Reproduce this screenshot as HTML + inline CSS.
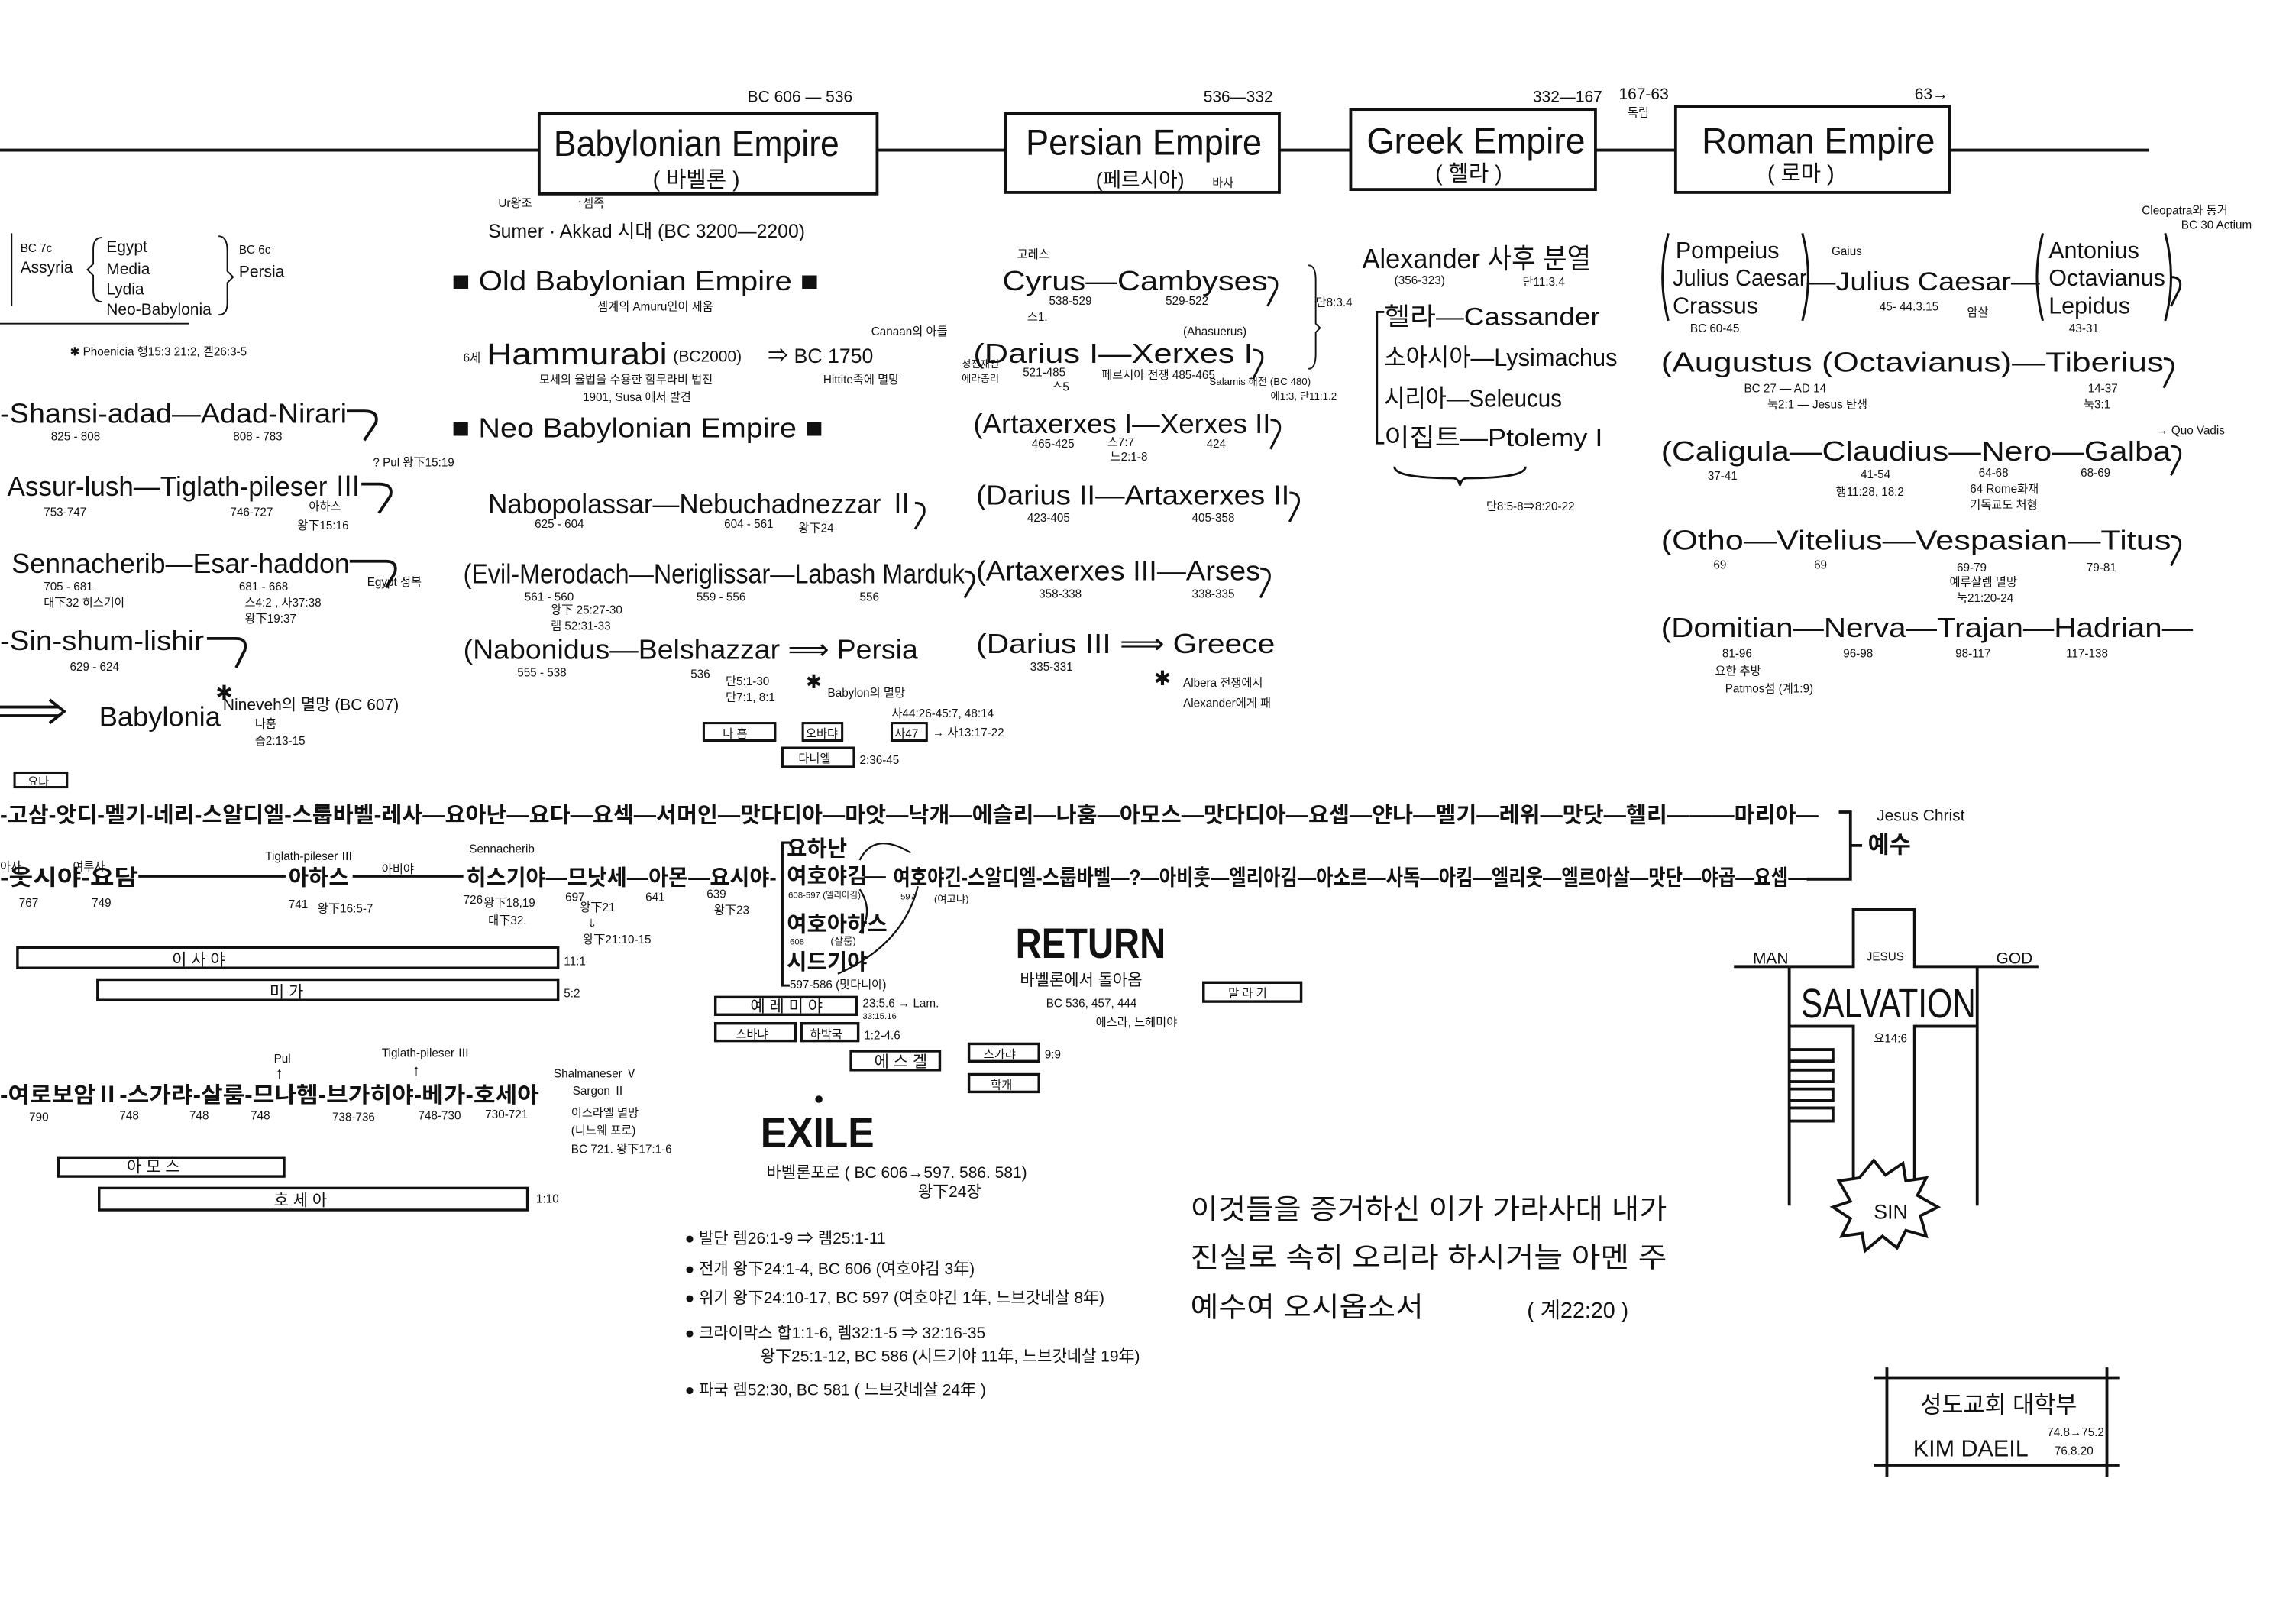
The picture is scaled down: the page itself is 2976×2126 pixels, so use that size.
<!DOCTYPE html>
<html><head><meta charset="utf-8"><style>
html,body{margin:0;padding:0;background:#fff;}
svg{display:block;}
text{font-family:"Liberation Sans","Noto Sans CJK KR",sans-serif;fill:#111;}
.n{font-size:19px;}
.s{font-size:8px;}
.m{font-size:11px;}
.k{font-size:15px;font-weight:bold;}
</style></head><body>
<svg width="2976" height="2126" viewBox="0 0 1560 1114" preserveAspectRatio="none" xmlns="http://www.w3.org/2000/svg">
<rect width="1560" height="1114" fill="#fff"/>
<g stroke="#111" stroke-width="2" fill="none">
<line x1="0" y1="103" x2="370" y2="103"/>
<line x1="602" y1="103" x2="690" y2="103"/>
<line x1="878" y1="103" x2="927" y2="103"/>
<line x1="1095" y1="103" x2="1150" y2="103"/>
<line x1="1338" y1="103" x2="1475" y2="103"/>
<rect x="370" y="78" width="232" height="55"/>
<rect x="690" y="78" width="188" height="54"/>
<rect x="927" y="75" width="168" height="55"/>
<rect x="1150" y="73" width="188" height="59"/>
</g>
<text x="513" y="70" class="m">BC 606 — 536</text>
<text x="826" y="70" class="m">536—332</text>
<text x="1052" y="70" class="m">332—167</text>
<text x="1111" y="68" class="m">167-63</text>
<text x="1117" y="80" class="s">독립</text>
<text x="1314" y="68" class="m">63→</text>
<text x="380" y="107" style="font-size:25px" textLength="196" lengthAdjust="spacingAndGlyphs">Babylonian Empire</text>
<text x="448" y="128" style="font-size:15px">( 바벨론 )</text>
<text x="704" y="106" style="font-size:25px" textLength="162" lengthAdjust="spacingAndGlyphs">Persian Empire</text>
<text x="752" y="128" style="font-size:14px">(페르시아)</text><text x="832" y="128" class="s">바사</text>
<text x="938" y="105" style="font-size:25px" textLength="150" lengthAdjust="spacingAndGlyphs">Greek Empire</text>
<text x="985" y="124" style="font-size:15px">( 헬라 )</text>
<text x="1168" y="105" style="font-size:25px" textLength="160" lengthAdjust="spacingAndGlyphs">Roman Empire</text>
<text x="1213" y="124" style="font-size:15px">( 로마 )</text>

<!-- left column -->
<text x="14" y="173" class="s">BC 7c</text><text x="14" y="187" class="m">Assyria</text>
<path d="M8,160 v50 M70,163 q-6,0 -6,8 v10 l-4,4 l4,4 v10 q0,8 6,8" stroke="#111" fill="none"/>
<text x="73" y="173" class="m">Egypt</text><text x="73" y="188" class="m">Media</text><text x="73" y="202" class="m">Lydia</text><text x="73" y="216" class="m">Neo-Babylonia</text>
<path d="M150,162 q6,0 6,10 v14 l4,4 l-4,4 v14 q0,8 -6,8 M0,222 h130" stroke="#111" fill="none"/>
<text x="164" y="174" class="s">BC 6c</text><text x="164" y="190" class="m">Persia</text>
<text x="48" y="244" class="s">✱ Phoenicia  행15:3  21:2,  겔26:3-5</text>
<text x="0" y="290" class="n" textLength="238" lengthAdjust="spacingAndGlyphs">-Shansi-adad—Adad-Nirari</text>
<text x="35" y="302" class="s">825 - 808</text><text x="160" y="302" class="s">808 - 783</text>
<text x="5" y="340" class="n" textLength="243" lengthAdjust="spacingAndGlyphs">Assur-lush—Tiglath-pileser Ⅲ</text>
<text x="30" y="354" class="s">753-747</text><text x="158" y="354" class="s">746-727</text><text x="212" y="350" class="s">아하스</text><text x="204" y="363" class="s">왕下15:16</text>
<text x="256" y="320" class="s">? Pul  왕下15:19</text>
<text x="8" y="393" class="n" textLength="232" lengthAdjust="spacingAndGlyphs">Sennacherib—Esar-haddon</text>
<text x="30" y="405" class="s">705 - 681</text><text x="30" y="416" class="s">대下32  히스기야</text>
<text x="164" y="405" class="s">681 - 668</text><text x="168" y="416" class="s">스4:2 , 사37:38</text><text x="168" y="427" class="s">왕下19:37</text>
<text x="252" y="402" class="s">Egypt 정복</text>
<text x="0" y="446" class="n" textLength="140" lengthAdjust="spacingAndGlyphs">-Sin-shum-lishir</text>
<text x="48" y="460" class="s">629 - 624</text>
<g stroke="#111" stroke-width="2" fill="none">
<path d="M238,282 h12 q10,0 8,8 l-8,12"/>
<path d="M248,332 h12 q10,0 8,8 l-8,12"/>
<path d="M240,385 h25 q8,0 6,8 l-6,10"/>
<path d="M142,438 h20 q8,0 6,8 l-6,12"/>
<path d="M0,485 h40 M0,491 h40 M34,480 l10,8 l-10,8"/>
</g>
<text x="68" y="498" class="n">Babylonia</text>
<text x="148" y="480" style="font-size:14px">✱</text>
<text x="153" y="487" class="m">Nineveh의 멸망 (BC 607)</text>
<text x="175" y="499" class="s">나훔</text><text x="175" y="511" class="s">습2:13-15</text>

<!-- babylon middle -->
<text x="342" y="142" class="s">Ur왕조</text><text x="396" y="142" class="s">↑셈족</text>
<text x="335" y="163" style="font-size:13px">Sumer · Akkad 시대  (BC 3200—2200)</text>
<text x="310" y="199" class="n" textLength="252" lengthAdjust="spacingAndGlyphs">■ Old Babylonian Empire ■</text>
<text x="410" y="213" class="s">셈계의 Amuru인이 세움</text>
<text x="318" y="248" class="s">6세</text>
<text x="334" y="250" style="font-size:21px" textLength="124" lengthAdjust="spacingAndGlyphs">Hammurabi</text>
<text x="462" y="248" class="m">(BC2000)</text>
<text x="370" y="263" class="s">모세의 율법을 수용한  함무라비 법전</text>
<text x="400" y="275" class="s">1901, Susa 에서 발견</text>
<text x="527" y="249" style="font-size:14px">⇒ BC 1750</text><text x="598" y="230" class="s">Canaan의 아들</text>
<text x="565" y="263" class="s">Hittite족에 멸망</text>
<text x="310" y="300" class="n" textLength="255" lengthAdjust="spacingAndGlyphs">■ Neo Babylonian Empire ■</text>
<text x="335" y="352" class="n" textLength="293" lengthAdjust="spacingAndGlyphs">Nabopolassar—Nebuchadnezzar Ⅱ</text>
<text x="367" y="362" class="s">625 - 604</text><text x="497" y="362" class="s">604 - 561</text><text x="548" y="365" class="s">왕下24</text>
<text x="318" y="400" class="n" textLength="344" lengthAdjust="spacingAndGlyphs">(Evil-Merodach—Neriglissar—Labash Marduk</text>
<text x="360" y="412" class="s">561 - 560</text><text x="378" y="421" class="s">왕下 25:27-30</text><text x="378" y="432" class="s">렘 52:31-33</text>
<text x="478" y="412" class="s">559 - 556</text><text x="590" y="412" class="s">556</text>
<text x="318" y="452" class="n" textLength="312" lengthAdjust="spacingAndGlyphs">(Nabonidus—Belshazzar ⟹ Persia</text>
<text x="355" y="464" class="s">555 - 538</text><text x="474" y="465" class="s">536</text>
<text x="498" y="470" class="s">단5:1-30</text><text x="498" y="481" class="s">단7:1, 8:1</text>
<text x="553" y="472" style="font-size:13px">✱</text><text x="568" y="478" class="s">Babylon의 멸망</text>
<text x="612" y="492" class="s">사44:26-45:7, 48:14</text>
<g stroke="#111" stroke-width="1.6" fill="none">
<path d="M628,345 q8,0 6,8 l-6,10"/>
<path d="M662,392 q8,0 6,8 l-6,10"/>
<rect x="483" y="496" width="49" height="12"/><rect x="551" y="496" width="27" height="12"/><rect x="612" y="496" width="24" height="12"/>
<rect x="537" y="513" width="49" height="13"/>
<rect x="10" y="530" width="36" height="10"/>
</g>
<text x="496" y="506" class="s">나 홈</text><text x="553" y="506" class="s">오바댜</text><text x="614" y="506" class="s">사47</text><text x="640" y="505" class="s">→ 사13:17-22</text>
<text x="548" y="523" class="s">다니엘</text><text x="590" y="524" class="s">2:36-45</text>
<text x="19" y="539" class="s">요나</text>

<!-- persian -->
<text x="698" y="177" class="s">고레스</text>
<text x="688" y="199" class="n" textLength="182" lengthAdjust="spacingAndGlyphs">Cyrus—Cambyses</text>
<text x="720" y="209" class="s">538-529</text><text x="800" y="209" class="s">529-522</text><text x="705" y="220" class="s">스1.</text>
<path d="M898,182 q5,0 5,10 v30 l3,3 l-3,3 v15 q0,10 -5,10" stroke="#111" fill="none"/>
<text x="903" y="210" class="s">단8:3.4</text>
<text x="812" y="230" class="s">(Ahasuerus)</text>
<text x="668" y="249" class="n" textLength="192" lengthAdjust="spacingAndGlyphs">(Darius I—Xerxes I</text>
<text x="660" y="252" style="font-size:7px">성전재건</text><text x="660" y="262" style="font-size:7px">에라총리</text>
<text x="702" y="258" class="s">521-485</text><text x="722" y="268" class="s">스5</text>
<text x="756" y="260" class="s">페르시아 전쟁 485-465</text>
<text x="830" y="264" style="font-size:7px">Salamis 해전 (BC 480)</text><text x="872" y="274" style="font-size:7px">에1:3, 단11:1.2</text>
<text x="668" y="297" class="n" textLength="204" lengthAdjust="spacingAndGlyphs">(Artaxerxes I—Xerxes II</text>
<text x="708" y="307" class="s">465-425</text><text x="760" y="306" class="s">스7:7</text><text x="762" y="316" class="s">느2:1-8</text><text x="828" y="307" class="s">424</text>
<text x="670" y="346" class="n" textLength="215" lengthAdjust="spacingAndGlyphs">(Darius II—Artaxerxes II</text>
<text x="705" y="358" class="s">423-405</text><text x="818" y="358" class="s">405-358</text>
<text x="670" y="398" class="n" textLength="195" lengthAdjust="spacingAndGlyphs">(Artaxerxes III—Arses</text>
<text x="713" y="410" class="s">358-338</text><text x="818" y="410" class="s">338-335</text>
<text x="670" y="448" class="n" textLength="205" lengthAdjust="spacingAndGlyphs">(Darius III ⟹ Greece</text>
<text x="707" y="460" class="s">335-331</text>
<text x="792" y="470" style="font-size:14px">✱</text><text x="812" y="471" class="s">Albera 전쟁에서</text><text x="812" y="485" class="s">Alexander에게 패</text>
<g stroke="#111" stroke-width="1.6" fill="none">
<path d="M870,190 q8,0 6,8 l-6,12"/><path d="M860,240 q8,0 6,8 l-6,12"/><path d="M872,288 q8,0 6,8 l-6,12"/>
<path d="M885,338 q8,0 6,8 l-6,12"/><path d="M865,390 q8,0 6,8 l-6,12"/>
</g>

<!-- greek -->
<text x="935" y="184" class="n" textLength="157" lengthAdjust="spacingAndGlyphs">Alexander 사후 분열</text>
<text x="957" y="195" class="s">(356-323)</text><text x="1045" y="196" class="s">단11:3.4</text>
<path d="M950,214 h-5 v90 h5 M957,320 q0,8 40,8 q4,0 5,5 q1,-5 5,-5 q40,0 40,-8" stroke="#111" stroke-width="1.5" fill="none"/>
<text x="950" y="223" style="font-size:17px" textLength="148" lengthAdjust="spacingAndGlyphs">헬라—Cassander</text>
<text x="950" y="251" style="font-size:17px" textLength="160" lengthAdjust="spacingAndGlyphs">소아시아—Lysimachus</text>
<text x="950" y="279" style="font-size:17px" textLength="122" lengthAdjust="spacingAndGlyphs">시리아—Seleucus</text>
<text x="950" y="306" style="font-size:17px" textLength="150" lengthAdjust="spacingAndGlyphs">이집트—Ptolemy I</text>
<text x="1020" y="350" class="s">단8:5-8⇒8:20-22</text>

<!-- roman -->
<g stroke="#111" stroke-width="1.6" fill="none">
<path d="M1145,160 q-8,30 0,60 M1237,160 q8,30 0,60 M1402,160 q-8,30 0,60 M1486,160 q8,30 0,60"/>
<path d="M1490,190 q8,0 6,8 l-6,12"/><path d="M1485,246 q8,0 6,8 l-6,12"/><path d="M1490,306 q8,0 6,8 l-6,12"/><path d="M1490,368 q8,0 6,8 l-6,12"/>
</g>
<text x="1150" y="177" style="font-size:16px">Pompeius</text>
<text x="1148" y="196" style="font-size:16px" textLength="92" lengthAdjust="spacingAndGlyphs">Julius Caesar</text>
<text x="1148" y="215" style="font-size:16px">Crassus</text>
<text x="1160" y="228" class="s">BC 60-45</text>
<text x="1257" y="175" class="s">Gaius</text>
<text x="1240" y="199" style="font-size:18px" textLength="160" lengthAdjust="spacingAndGlyphs">—Julius Caesar—</text>
<text x="1290" y="213" class="s">45- 44.3.15</text><text x="1350" y="217" class="s">암살</text>
<text x="1406" y="177" style="font-size:16px">Antonius</text>
<text x="1406" y="196" style="font-size:16px" textLength="80" lengthAdjust="spacingAndGlyphs">Octavianus</text>
<text x="1406" y="215" style="font-size:16px">Lepidus</text>
<text x="1420" y="228" class="s">43-31</text>
<text x="1470" y="147" class="s">Cleopatra와 동거</text><text x="1497" y="157" class="s">BC 30 Actium</text>
<text x="1140" y="255" class="n" textLength="345" lengthAdjust="spacingAndGlyphs">(Augustus (Octavianus)—Tiberius</text>
<text x="1197" y="269" class="s">BC 27 — AD 14</text><text x="1213" y="280" class="s">눅2:1 — Jesus 탄생</text>
<text x="1433" y="269" class="s">14-37</text><text x="1430" y="280" class="s">눅3:1</text>
<text x="1140" y="316" class="n" textLength="350" lengthAdjust="spacingAndGlyphs">(Caligula—Claudius—Nero—Galba</text>
<text x="1480" y="298" class="s">→ Quo Vadis</text>
<text x="1172" y="329" class="s">37-41</text><text x="1277" y="328" class="s">41-54</text><text x="1260" y="340" class="s">행11:28, 18:2</text>
<text x="1358" y="327" class="s">64-68</text><text x="1352" y="338" class="s">64 Rome화재</text><text x="1352" y="349" class="s">기독교도 처형</text><text x="1428" y="327" class="s">68-69</text>
<text x="1140" y="377" class="n" textLength="350" lengthAdjust="spacingAndGlyphs">(Otho—Vitelius—Vespasian—Titus</text>
<text x="1176" y="390" class="s">69</text><text x="1245" y="390" class="s">69</text><text x="1343" y="392" class="s">69-79</text>
<text x="1338" y="402" class="s">예루살렘 멸망</text><text x="1343" y="413" class="s">눅21:20-24</text><text x="1432" y="392" class="s">79-81</text>
<text x="1140" y="437" class="n" textLength="365" lengthAdjust="spacingAndGlyphs">(Domitian—Nerva—Trajan—Hadrian—</text>
<text x="1182" y="451" class="s">81-96</text><text x="1265" y="451" class="s">96-98</text><text x="1342" y="451" class="s">98-117</text><text x="1418" y="451" class="s">117-138</text>
<text x="1177" y="463" class="s">요한 추방</text><text x="1184" y="475" class="s">Patmos섬 (계1:9)</text>

<!-- genealogy -->
<text x="0" y="564" class="k" textLength="1248" lengthAdjust="spacingAndGlyphs">-고삼-앗디-멜기-네리-스알디엘-스룹바벨-레사—요아난—요다—요섹—서머인—맛다디아—마앗—낙개—에슬리—나훔—아모스—맛다디아—요셉—얀나—멜기—레위—맛닷—헬리———마리아—</text>
<path d="M1262,557 h8 v46 h-30 M1270,580 h8" stroke="#111" stroke-width="2" fill="none"/>
<text x="1288" y="563" class="m">Jesus Christ</text>
<text x="1282" y="585" style="font-size:16px;font-weight:bold">예수</text>
<text x="0" y="607" class="k" textLength="95" lengthAdjust="spacingAndGlyphs">-웃시야-요담</text>
<text x="0" y="597" class="s">아사</text><text x="50" y="597" class="s">여루사</text>
<line x1="95" y1="601" x2="196" y2="601" stroke="#111" stroke-width="2"/>
<text x="198" y="607" class="k">아하스</text>
<line x1="242" y1="601" x2="318" y2="601" stroke="#111" stroke-width="2"/>
<text x="262" y="599" class="s">아비야</text>
<text x="320" y="607" class="k" textLength="213" lengthAdjust="spacingAndGlyphs">히스기야—므낫세—아몬—요시야-</text>
<text x="182" y="590" class="s">Tiglath-pileser Ⅲ</text><text x="322" y="585" class="s">Sennacherib</text>
<text x="13" y="622" class="s">767</text><text x="63" y="622" class="s">749</text><text x="198" y="623" class="s">741</text><text x="218" y="626" class="s">왕下16:5-7</text>
<text x="318" y="620" class="s">726</text><text x="332" y="622" class="s">왕下18,19</text><text x="335" y="634" class="s">대下32.</text>
<text x="388" y="618" class="s">697</text><text x="398" y="625" class="s">왕下21</text><text x="403" y="636" class="s">⇓</text><text x="400" y="647" class="s">왕下21:10-15</text>
<text x="443" y="618" class="s">641</text><text x="485" y="616" class="s">639</text><text x="490" y="627" class="s">왕下23</text>
<path d="M542,578 h-5 v98 h5" stroke="#111" stroke-width="1.6" fill="none"/>
<text x="540" y="587" class="k">요하난</text>
<text x="540" y="606" class="k">여호야김</text>
<text x="541" y="616" style="font-size:6px">608-597 (엘리아김)</text>
<text x="593" y="606" class="k">—</text>
<text x="613" y="607" class="k" textLength="627" lengthAdjust="spacingAndGlyphs">여호야긴-스알디엘-스룹바벨—?—아비훗—엘리아김—아소르—사독—아킴—엘리웃—엘르아살—맛단—야곱—요셉—</text>
<text x="618" y="617" style="font-size:6px">597</text><text x="641" y="619" style="font-size:7px">(여고냐)</text>
<text x="540" y="639" class="k">여호아하스</text>
<text x="542" y="648" style="font-size:6px">608</text><text x="570" y="648" style="font-size:7px">(살룸)</text>
<text x="540" y="665" class="k">시드기야</text>
<text x="542" y="678" class="s">597-586  (맛다니야)</text>
<path d="M590,590 q10,-20 35,-5 M630,608 q-10,40 -55,60 M590,610 q10,15 0,30" stroke="#111" stroke-width="1.2" fill="none"/>

<g stroke="#111" stroke-width="1.8" fill="none">
<rect x="12" y="650" width="371" height="14"/>
<rect x="67" y="672" width="316" height="14"/>
<rect x="491" y="684" width="97" height="12"/>
<rect x="491" y="702" width="55" height="12"/><rect x="550" y="702" width="39" height="12"/>
<rect x="584" y="721" width="61" height="13"/>
<rect x="665" y="716" width="48" height="12"/><rect x="665" y="737" width="48" height="12"/>
<rect x="826" y="674" width="67" height="13"/>
<rect x="40" y="794" width="155" height="13"/>
<rect x="68" y="815" width="294" height="15"/>
</g>
<text x="118" y="662" class="m">이          사          야</text><text x="387" y="662" class="s">11:1</text>
<text x="185" y="684" class="m">미          가</text><text x="387" y="684" class="s">5:2</text>
<text x="515" y="694" class="m">예 레 미 야</text><text x="592" y="691" class="s">23:5.6 → Lam.</text><text x="592" y="699" style="font-size:6px">33:15.16</text>
<text x="505" y="712" class="s">스바냐</text><text x="556" y="712" class="s">하박국</text><text x="593" y="713" class="s">1:2-4.6</text>
<text x="600" y="732" class="m">에 스 겔</text>
<text x="675" y="726" class="s">스가랴</text><text x="717" y="726" class="s">9:9</text><text x="680" y="747" class="s">학개</text>
<text x="697" y="657" style="font-size:29px;font-weight:bold" textLength="103" lengthAdjust="spacingAndGlyphs">RETURN</text>
<text x="700" y="676" class="m">바벨론에서 돌아옴</text>
<text x="718" y="691" class="s">BC 536, 457, 444</text><text x="752" y="704" class="s">에스라, 느헤미야</text>
<text x="843" y="684" class="s">말 라 기</text>

<!-- israel -->
<text x="0" y="756" class="k" textLength="370" lengthAdjust="spacingAndGlyphs">-여로보암Ⅱ-스가랴-살룸-므나헴-브가히야-베가-호세아</text>
<text x="20" y="769" class="s">790</text><text x="82" y="768" class="s">748</text><text x="130" y="768" class="s">748</text><text x="172" y="768" class="s">748</text>
<text x="228" y="769" class="s">738-736</text><text x="287" y="768" class="s">748-730</text><text x="333" y="767" class="s">730-721</text>
<text x="188" y="729" class="s">Pul</text><text x="189" y="740" class="m">↑</text>
<text x="262" y="725" class="s">Tiglath-pileser Ⅲ</text><text x="283" y="738" class="m">↑</text>
<text x="380" y="739" class="s">Shalmaneser Ⅴ</text><text x="393" y="751" class="s">Sargon Ⅱ</text>
<text x="392" y="766" class="s">이스라엘 멸망</text><text x="392" y="778" class="s">(니느웨 포로)</text><text x="392" y="791" class="s">BC 721.  왕下17:1-6</text>
<text x="87" y="804" class="m">아       모       스</text>
<text x="188" y="827" class="m">호        세        아</text><text x="368" y="825" class="s">1:10</text>

<!-- exile -->
<circle cx="562" cy="754" r="2.5" fill="#111"/>
<text x="522" y="787" style="font-size:29px;font-weight:bold" textLength="78" lengthAdjust="spacingAndGlyphs">EXILE</text>
<text x="526" y="808" class="m">바벨론포로  ( BC 606→597. 586. 581)</text>
<text x="630" y="821" class="m">왕下24장</text>
<text x="470" y="853" class="m">● 발단    렘26:1-9  ⇒  렘25:1-11</text>
<text x="470" y="874" class="m">● 전개    왕下24:1-4,  BC 606  (여호야김 3年)</text>
<text x="470" y="894" class="m">● 위기    왕下24:10-17,  BC 597 (여호야긴 1年, 느브갓네살 8年)</text>
<text x="470" y="918" class="m">● 크라이막스   합1:1-6, 렘32:1-5 ⇒ 32:16-35</text>
<text x="522" y="934" class="m">왕下25:1-12,  BC 586 (시드기야 11年, 느브갓네살 19年)</text>
<text x="470" y="957" class="m">● 파국    렘52:30,  BC 581  ( 느브갓네살 24年 )</text>
<text x="817" y="836" style="font-size:19px" textLength="327" lengthAdjust="spacingAndGlyphs">이것들을 증거하신 이가 가라사대 내가</text>
<text x="817" y="869" style="font-size:19px" textLength="327" lengthAdjust="spacingAndGlyphs">진실로 속히 오리라  하시거늘 아멘 주</text>
<text x="817" y="903" style="font-size:19px" textLength="160" lengthAdjust="spacingAndGlyphs">예수여 오시옵소서</text>
<text x="1048" y="904" style="font-size:15px">( 계22:20 )</text>

<!-- cross -->
<g stroke="#111" stroke-width="2" fill="none">
<path d="M1190,663 H1272 V624 H1314 V663 H1399"/>
<path d="M1228,663 V827 M1357,663 V827 M1228,704 H1272 V811 M1357,704 H1314 V811"/>
<path d="M1228,720 h30 v8 h-30 M1228,734 h30 v8 h-30 M1228,747 h30 v8 h-30 M1228,760 h30 v9 h-30"/>
<path d="M1276,808 l10,-12 l8,10 l12,-8 l2,12 l14,-2 l-6,12 l14,8 l-12,6 l4,14 l-14,-4 l-6,12 l-10,-8 l-12,10 l-2,-12 l-14,2 l6,-12 l-12,-8 l12,-4 l-8,-14 z" fill="#fff"/>
</g>
<text x="1203" y="661" class="m">MAN</text><text x="1281" y="659" class="s">JESUS</text><text x="1370" y="661" class="m">GOD</text>
<text x="1236" y="698" style="font-size:28px" textLength="120" lengthAdjust="spacingAndGlyphs">SALVATION</text>
<text x="1286" y="715" class="s">요14:6</text>
<text x="1286" y="836" style="font-size:14px">SIN</text>
<g stroke="#111" stroke-width="2" fill="none">
<path d="M1286,945 H1455 M1286,1005 H1455 M1295,938 V1013 M1446,938 V1013"/>
</g>
<text x="1318" y="969" style="font-size:16px">성도교회 대학부</text>
<text x="1313" y="999" style="font-size:16px">KIM DAEIL</text>
<text x="1405" y="985" class="s">74.8→75.2</text><text x="1410" y="998" class="s">76.8.20</text>
</svg>
</body></html>
